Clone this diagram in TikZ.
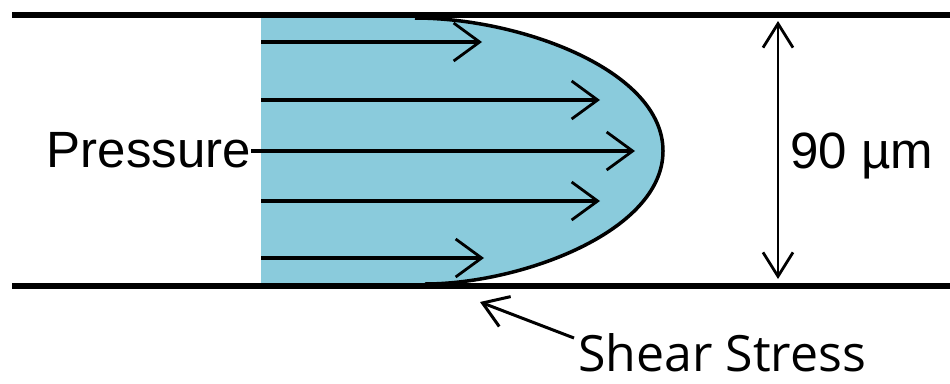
\documentclass[tikz,border=0pt]{standalone}
\usepackage{fontspec}
\setmainfont{Liberation Sans}
\newfontfamily\labelfont{Open Sans}
\usetikzlibrary{arrows.meta}
\definecolor{fluid}{RGB}{138,203,220}
\tikzset{
  wall/.style={line width=6.5pt},
  flow/.style={line width=3.2pt, -{Straight Barb[length=26pt,width=38pt,line width=2.8pt]}},
  dimline/.style={line width=2.8pt, {Straight Barb[length=24pt,width=30pt]}-{Straight Barb[length=24pt,width=30pt]}},
  lbl/.style={inner sep=0pt, text depth=0pt, font=\fontsize{51}{60}\selectfont}
}
\begin{document}
\begin{tikzpicture}[x=1pt,y=-1pt]
  \useasboundingbox (0,0) rectangle (950,383);
  % velocity profile of the fluid
  \fill[fluid] (261,18) -- (415,18)
    .. controls (520,18) and (663,70) .. (663,151)
    .. controls (663,232) and (520,284) .. (425,284) -- (261,284) -- cycle;
  \draw[line width=3.5pt] (415,18)
    .. controls (520,18) and (663,70) .. (663,151)
    .. controls (663,232) and (520,284) .. (425,284);
  % channel walls
  \draw[wall] (12,15) -- (950,15);
  \draw[wall] (12,286) -- (950,286);
  % labels
  \node[lbl, anchor=base east] (pressure) at (251,167) {Pressure};
  \node[lbl, anchor=base west] (gap) at (790,168) {90 µm};
  \node[lbl, anchor=base west, font=\labelfont\fontsize{50}{60}\selectfont] (shear) at (578,371) {Shear Stress};
  % flow arrows
  \coordinate (a1s) at (261,42);  \coordinate (a1e) at (482,42);
  \coordinate (a2s) at (261,100); \coordinate (a2e) at (600,100);
  \coordinate (a3e) at (635,151);
  \coordinate (a4s) at (261,201); \coordinate (a4e) at (600,201);
  \coordinate (a5s) at (261,258); \coordinate (a5e) at (484,258);
  \draw[flow] (a1s) -- (a1e);
  \draw[flow] (a2s) -- (a2e);
  \draw[flow] (pressure.east |- 0,151) -- (a3e);
  \draw[flow] (a4s) -- (a4e);
  \draw[flow] (a5s) -- (a5e);
  % channel height
  \coordinate (dtop) at (778,21);
  \coordinate (dbot) at (778,279);
  \draw[dimline] (dtop) -- (dbot);
  % shear stress pointer
  \coordinate (wallpt) at (480,302);
  \draw[line width=3pt, -{Straight Barb[length=24pt,width=32pt]}] (574,338) -- (wallpt);
\end{tikzpicture}
\end{document}
